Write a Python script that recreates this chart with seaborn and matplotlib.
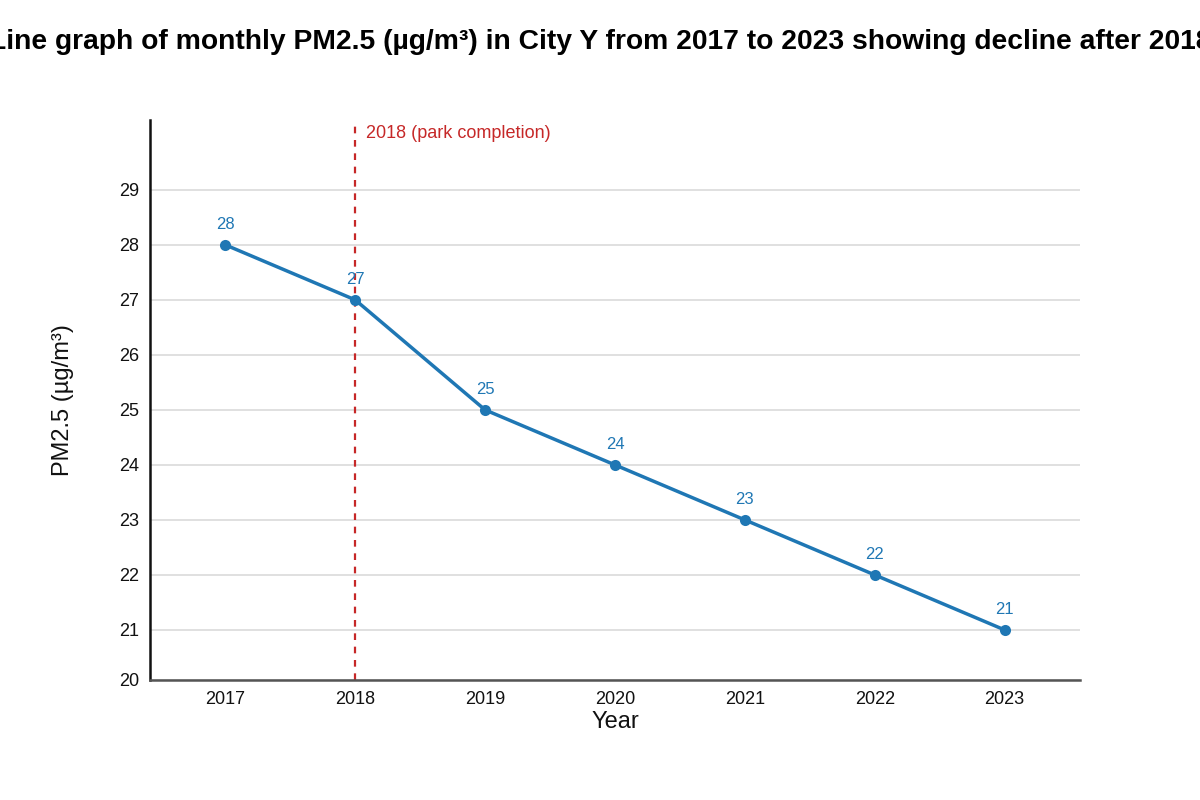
import matplotlib
matplotlib.use("Agg")
import matplotlib.pyplot as plt
import seaborn as sns
import pandas as pd

# data
years = [2017, 2018, 2019, 2020, 2021, 2022, 2023]
pm25 = [28, 27, 25, 24, 23, 22, 21]
event_year = 2018
event_label = "2018 (park completion)"
y_bottom = 20.09
y_ticks = [y_bottom] + list(range(21, 30))
y_tick_labels = ["20"] + [str(v) for v in range(21, 30)]

df = pd.DataFrame({"Year": years, "PM2.5": pm25})

sns.set_theme(style="white")
plt.rcParams["font.family"] = ["Liberation Sans", "DejaVu Sans"]

line_color = "#1f77b4"
event_color = "#c62828"

fig = plt.figure(figsize=(12, 8), dpi=100)
ax = fig.add_axes([0.125, 0.15, 0.775, 0.70])

sns.lineplot(data=df, x="Year", y="PM2.5", ax=ax, color=line_color,
             linewidth=2.5, marker="o", markersize=8, markeredgewidth=0)

for x, y in zip(years, pm25):
    ax.annotate(str(y), (x, y), xytext=(0, 20), textcoords="offset pixels",
                ha="center", va="center", color=line_color, fontsize=12)

ax.axvline(event_year, color=event_color, linestyle=(0, (3, 3)), linewidth=1.6, zorder=1)
ax.text(event_year + 0.08, 30.02, event_label, color=event_color,
        fontsize=13, ha="left", va="center")

ax.set_xlim(2016.42, 2023.58)
ax.set_ylim(y_bottom, 30.27)
ax.set_xticks(years)
ax.set_yticks(y_ticks, y_tick_labels)
ax.tick_params(axis="both", length=0, labelsize=13, colors="#111111")
ax.tick_params(axis="y", pad=8)
ax.tick_params(axis="x", pad=8)

ax.yaxis.grid(True, color="#dddddd", linewidth=1.3)
ax.xaxis.grid(False)
for s in ["top", "right"]:
    ax.spines[s].set_visible(False)
ax.spines["left"].set_color("#111111")
ax.spines["left"].set_linewidth(1.8)
ax.spines["bottom"].set_color("#555555")
ax.spines["bottom"].set_linewidth(1.8)

ax.set_xlabel("Year", fontsize=17, labelpad=2, color="#111111")
ax.set_ylabel("PM2.5 (µg/m³)", fontsize=17, labelpad=32, color="#111111")

fig.text(0.5, 0.948, "Line graph of monthly PM2.5 (µg/m³) in City Y from 2017 to 2023 showing decline after 2018",
         ha="center", va="center", fontsize=20.3, fontweight="bold", color="black")

fig.savefig("out.png", dpi=100)
